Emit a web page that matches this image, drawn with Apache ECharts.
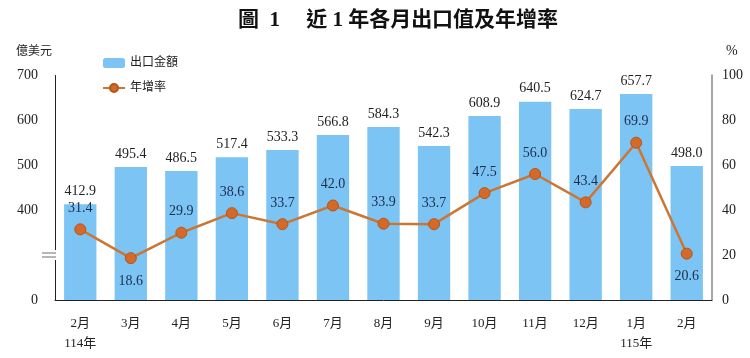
<!DOCTYPE html>
<html><head><meta charset="utf-8">
<script src="https://cdn.jsdelivr.net/npm/echarts@6/dist/echarts.min.js"></script>
<style>html,body{margin:0;padding:0;background:#fff}#c{width:750px;height:358px}</style>
</head><body><div id="c"></div>
<script>
const months = ['2月\n114年','3月','4月','5月','6月','7月','8月','9月','10月','11月','12月','1月\n115年','2月'];
const exportValues = [412.9,495.4,486.5,517.4,533.3,566.8,584.3,542.3,608.9,640.5,624.7,657.7,498.0];
const growthRates = [31.4,18.6,29.9,38.6,33.7,42.0,33.9,33.7,47.5,56.0,43.4,69.9,20.6];
const leftTicks = [0,400,500,600,700];
const rightTicks = [0,20,40,60,80,100];

const FONT = "'Liberation Serif','Noto Sans CJK TC',serif";
const chart = echarts.init(document.getElementById('c'));
chart.setOption({
  animation: false,
  backgroundColor: '#fff',
  textStyle: { fontFamily: FONT },
  title: {
    text: '圖  1　 近 1 年各月出口值及年增率',
    left: 393, textAlign: 'center', top: 5,
    textStyle: { fontSize: 21, fontWeight: 'bold', color: '#111', fontFamily: FONT }
  },
  legend: {
    orient: 'vertical', left: 97, top: 52, itemGap: 13, itemWidth: 22, itemHeight: 10,
    textStyle: { fontSize: 12, color: '#222', fontFamily: FONT },
    data: ['出口金額', '年增率']
  },
  grid: { left: 52, right: 38, top: 75, bottom: 58 },
  xAxis: {
    type: 'category', data: months,
    axisLine: { lineStyle: { color: '#222', width: 1 } },
    axisTick: { show: false },
    axisLabel: { color: '#222', fontSize: 13, lineHeight: 20, margin: 14, fontFamily: FONT }
  },
  yAxis: [{
    type: 'value', min: 0, max: 700, interval: 100,
    breaks: [{ start: 100, end: 300, gap: 0 }],
    breakArea: { show: false },
    name: '億美元', nameLocation: 'end', nameGap: 17,
    nameTextStyle: { color: '#222', fontSize: 12, align: 'right', padding: [0, 3, 0, 0], fontFamily: FONT },
    axisLine: { show: true, lineStyle: { color: '#222', width: 1 } },
    axisTick: { show: false }, splitLine: { show: false },
    axisLabel: { color: '#222', fontSize: 14, margin: 17, fontFamily: FONT,
      formatter: v => leftTicks.includes(v) ? String(v) : '' }
  }, {
    type: 'value', min: 0, max: 100, interval: 20,
    name: '%', nameLocation: 'end', nameGap: 17,
    nameTextStyle: { color: '#222', fontSize: 14, align: 'left', padding: [0, 0, 0, 14], fontFamily: FONT },
    axisLine: { show: true, lineStyle: { color: '#888', width: 1.5 } },
    axisTick: { show: false }, splitLine: { show: false },
    axisLabel: { color: '#222', fontSize: 14, margin: 10, fontFamily: FONT,
      formatter: v => rightTicks.includes(v) ? String(v) : '' }
  }],
  series: [{
    name: '出口金額', type: 'bar', data: exportValues, barWidth: '64%',
    itemStyle: { color: '#7cc4f4' },
    label: { show: true, position: 'top', distance: 6, color: '#222', fontSize: 14, fontFamily: FONT,
      formatter: p => p.value.toFixed(1) },
    z: 2
  }, {
    name: '年增率', type: 'line', yAxisIndex: 1,
    data: growthRates.map(v => ({ value: v, label: { position: v < 25 ? 'bottom' : 'top', distance: v < 25 ? 10 : 8 } })),
    symbol: 'circle', symbolSize: 11,
    lineStyle: { color: '#cc7634', width: 2.5 },
    itemStyle: { color: '#d4692a', borderColor: '#b4561c', borderWidth: 1 },
    label: { show: true, color: '#1c2d4d', fontSize: 14, fontFamily: FONT,
      formatter: p => p.value.toFixed(1) },
    z: 3
  }]
});

const by = chart.convertToPixel({ yAxisIndex: 0 }, 100);
chart.setOption({
  graphic: [
    { type: 'rect', shape: { x: 47, y: by - 5, width: 10, height: 10 }, style: { fill: '#fff' }, z: 100 },
    { type: 'line', shape: { x1: 42, y1: by - 2, x2: 56, y2: by - 2 }, style: { stroke: '#888', lineWidth: 1.2 }, z: 101 },
    { type: 'line', shape: { x1: 42, y1: by + 2, x2: 56, y2: by + 2 }, style: { stroke: '#888', lineWidth: 1.2 }, z: 101 }
  ]
});
</script></body></html>
